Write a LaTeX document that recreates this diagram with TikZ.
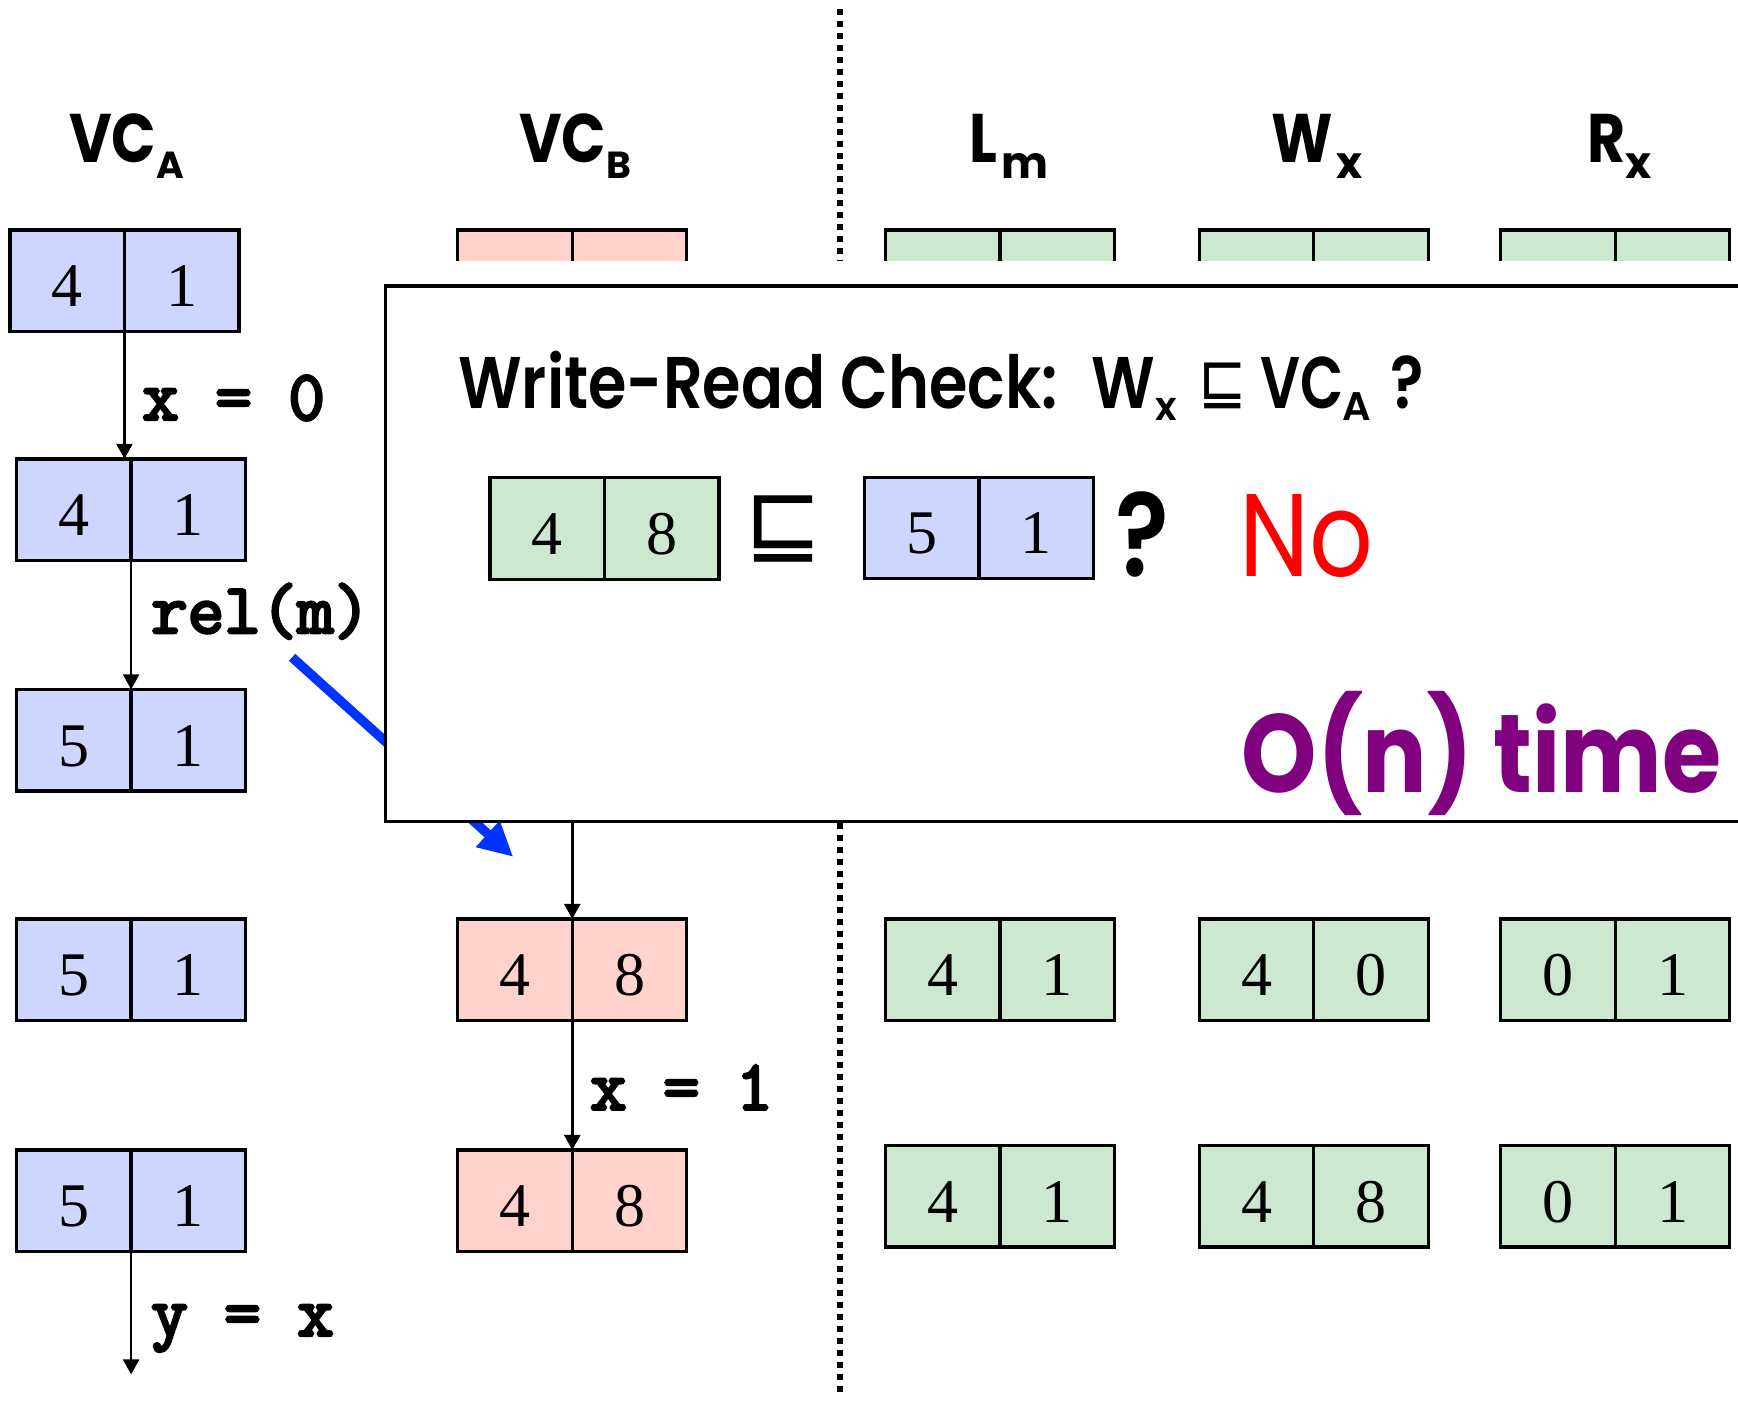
\documentclass[tikz,border=0pt]{standalone}
\usepackage{fontspec}
\setmainfont{Liberation Serif}
\newfontfamily\comic{Poppins}
\newfontfamily\comicsb{Poppins SemiBold}
\newfontfamily\dejavu{DejaVu Sans}
\newfontfamily\cour{Latin Modern Mono}[FakeBold=4]
\usetikzlibrary{arrows.meta}
\definecolor{vcblue}{RGB}{204,214,255}
\definecolor{vcpink}{RGB}{255,211,204}
\definecolor{vcgreen}{RGB}{204,232,206}
\definecolor{arrblue}{RGB}{0,51,255}
\definecolor{ontime}{RGB}{128,0,128}
\newcommand{\vcpair}[6]{%
  \node[cell, fill=#4] (#1l) at (#2,#3) {#5};
  \node[cell, fill=#4] (#1r) at ({#2+103.3},#3) {#6};
}
\newcommand{\nx}[1]{\scalebox{0.85}[1]{#1}}
\begin{document}
\begin{tikzpicture}[x=0.5pt,y=-0.5pt,
  cell/.style={draw=black, line width=1.5pt, minimum width=51.65pt, minimum height=45.75pt,
    inner sep=0pt, outer sep=0pt, anchor=north west,
    font=\fontsize{28}{28}\selectfont, text height=23.5pt, text depth=0pt},
  arr/.style={line width=1.2pt, -{Triangle[length=6.8pt,width=7.2pt]}},
  blarr/.style={arrblue, line width=4.25pt, -{Triangle[length=15.5pt,width=15pt]}},
  code/.style={font=\cour\fontsize{32}{32}\selectfont, inner sep=0pt, anchor=base west},
  hdr/.style={font=\comic\bfseries\fontsize{31}{31}\selectfont, inner sep=0pt, anchor=base west},
  hsub/.style={font=\comic\bfseries\fontsize{17}{17}\selectfont, inner sep=0pt, anchor=base west},
  hsubl/.style={font=\comic\bfseries\fontsize{20}{20}\selectfont, inner sep=0pt, anchor=base west},
  chk/.style={font=\comicsb\fontsize{33}{33}\selectfont, inner sep=0pt, anchor=base west},
  csub/.style={font=\comicsb\fontsize{18}{18}\selectfont, inner sep=0pt, anchor=base west},
]
\useasboundingbox (0,0) rectangle (1568,1265);
\clip (0,0) rectangle (1568,1265);

% column headers
\node[hdr] (hA) at (62,147) {\nx{VC}};
\node[hsub] (hAs) at (141,161) {A};
\node[hdr] (hB) at (468,147) {\nx{VC}};
\node[hsub] (hBs) at (547,161) {B};
\node[hdr] (hL) at (874,147) {\nx{L}};
\node[hsubl] (hLs) at (903,161) {m};
\node[hdr] (hW) at (1147,147) {\nx{W}};
\node[hsubl] (hWs) at (1205,161) {x};
\node[hdr] (hR) at (1432,147) {\nx{R}};
\node[hsubl] (hRs) at (1466,161) {x};

% dotted separator
\coordinate (dtop) at (757.5,8);
\coordinate (dbot) at (757.5,1258);
\draw[line width=2.7pt, dash pattern=on 2.7pt off 2.7pt] (dtop) -- (dbot);

% rows of clocks
\vcpair{a1}{9}{207.5}{vcblue}{4}{1}
\vcpair{a2}{15}{414}{vcblue}{4}{1}
\vcpair{a3}{15}{622}{vcblue}{5}{1}
\vcpair{a4}{15}{829}{vcblue}{5}{1}
\vcpair{a5}{15}{1037.5}{vcblue}{5}{1}
\vcpair{b1}{413}{207.5}{vcpink}{}{}
\vcpair{b4}{413}{829}{vcpink}{4}{8}
\vcpair{b5}{413}{1037.5}{vcpink}{4}{8}
\vcpair{l1}{799}{207.5}{vcgreen}{}{}
\vcpair{l4}{799}{829}{vcgreen}{4}{1}
\vcpair{l5}{799}{1033.5}{vcgreen}{4}{1}
\vcpair{w1}{1082}{207.5}{vcgreen}{}{}
\vcpair{w4}{1082}{829}{vcgreen}{4}{0}
\vcpair{w5}{1082}{1033.5}{vcgreen}{4}{8}
\vcpair{r1}{1354}{207.5}{vcgreen}{}{}
\vcpair{r4}{1354}{829}{vcgreen}{0}{1}
\vcpair{r5}{1354}{1033.5}{vcgreen}{0}{1}

% thread arrows
\draw[arr] (a1l.south east) -- (a1l.south east |- a2l.north);
\draw[arr] (a2l.south east) -- (a3l.north east);
\coordinate (aend) at (118.3,1240);
\draw[arr] (a5l.south east) -- (aend);
\draw[arr] (b1l.south east) -- (b4l.north east);
\draw[arr] (b4l.south east) -- (b5l.north east);

% code labels
\node[code] (t1) at (128,378.6) {x = 0};
\node[code] (t2) at (136,571) {rel(m)};
\node[code] (t3) at (532,1001) {x = 1};
\node[code] (t4) at (136,1205) {y = x};

% sync arrow
\coordinate (bs) at (263.5,593);
\coordinate (bt) at (463,773);
\draw[blarr] (bs) -- (bt);

% overlay box
\fill[white] (348,235.5) rectangle (1640,741);
\draw[line width=1.5pt] (348,258) rectangle (1640,741);

\node[chk] (c1) at (413,368.6) {\nx{Write-Read Check:}};
\node[chk] (c2) at (984,368.6) {\nx{W}};
\node[csub] (c2s) at (1042,379) {x};
\node[inner sep=0pt, anchor=base west, font=\dejavu\fontsize{29}{29}\selectfont] (c3) at (1081,364) {\scalebox{0.9}[1]{⊑}};
\node[chk] (c4) at (1137,368.6) {\scalebox{0.77}[1]{VC}};
\node[csub] (c4s) at (1211,379) {A};
\node[chk] (c5) at (1254,368.6) {\nx{?}};

\vcpair{g}{442}{431}{vcgreen}{4}{8}
\node[inner sep=0pt, anchor=base west, font=\dejavu\fontsize{42}{42}\selectfont] (sq) at (671,500) {⊑};
\vcpair{v}{780}{430.5}{vcblue}{5}{1}
\node[inner sep=0pt, anchor=base west, font=\comicsb\fontsize{53}{53}\selectfont] (q) at (1006,520) {\nx{?}};
\node[inner sep=0pt, anchor=base west, text=red, font=\comic\fontsize{53}{53}\selectfont] (no) at (1118,520) {\nx{No}};
\node[inner sep=0pt, anchor=base west, text=ontime, font=\comic\bfseries\fontsize{50}{50}\selectfont] (on) at (1120,715) {\scalebox{0.865}[1]{O(n) time}};
\end{tikzpicture}
\end{document}
